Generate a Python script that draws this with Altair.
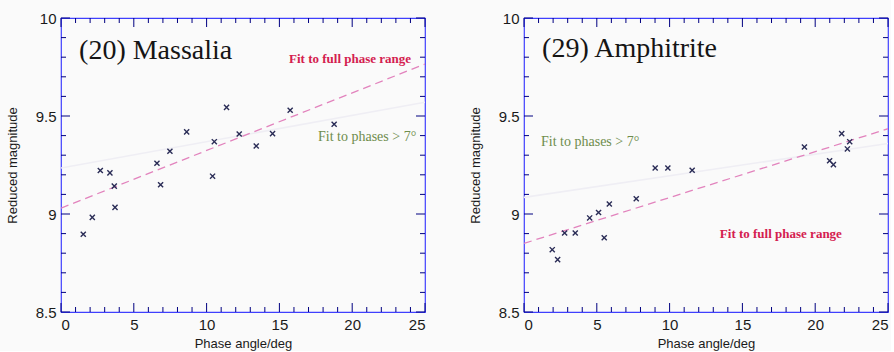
import altair as alt
import pandas as pd

# ---------------- data ----------------
# (20) Massalia
mas_phase = [1.53, 2.15, 2.70, 3.36, 3.66, 3.71, 6.59, 6.84, 7.48, 8.63,
             10.41, 10.53, 11.37, 12.24, 13.41, 14.53, 15.74, 18.76]
mas_mag = [8.897, 8.983, 9.222, 9.210, 9.142, 9.034, 9.259, 9.149, 9.320, 9.419,
           9.193, 9.369, 9.544, 9.408, 9.347, 9.410, 9.529, 9.458]
# (29) Amphitrite
amp_phase = [1.94, 2.31, 2.79, 3.52, 4.51, 5.12, 5.51, 5.86, 7.71, 9.01,
             9.88, 11.55, 19.26, 20.99, 21.25, 21.82, 22.21, 22.37]
amp_mag = [8.818, 8.767, 8.903, 8.903, 8.980, 9.008, 8.879, 9.051, 9.078, 9.235,
           9.235, 9.223, 9.342, 9.272, 9.252, 9.410, 9.332, 9.369]

# fit lines (end points)
fit_phase = [0, 25]
mas_fit_full = [9.03, 9.765]
mas_fit_gt7 = [9.235, 9.57]
amp_fit_full = [8.85, 9.435]
amp_fit_gt7 = [9.085, 9.36]

# annotation texts and anchor positions (data units)
mas_title = ["(20) Massalia", 1.24, 9.79]
amp_title = ["(29) Amphitrite", 1.24, 9.80]
mas_full_lbl = ["Fit to full phase range", 15.66, 9.77]
mas_gt7_lbl = ["Fit to phases > 7°", 17.65, 9.372]
amp_full_lbl = ["Fit to full phase range", 13.45, 8.878]
amp_gt7_lbl = ["Fit to phases > 7°", 1.17, 9.347]

# axis ranges and ticks
x_range = [0, 25]
y_range = [8.5, 10]
x_major = [0, 5, 10, 15, 20, 25]
x_minor = [1, 2, 3, 4, 6, 7, 8, 9, 11, 12, 13, 14, 16, 17, 18, 19, 21, 22, 23, 24]
y_major = [8.5, 9.0, 9.5, 10.0]
y_minor = [8.6, 8.7, 8.8, 8.9, 9.1, 9.2, 9.3, 9.4, 9.6, 9.7, 9.8, 9.9]

# ---------------- styling ----------------
W, H = 364, 294
FRAME = "blue"
TICK = "navy"
MARK = "#2a2c56"
PINK = "#e283bd"
FAINT = "#efeef4"
CRIMSON = "#d4204f"
GREEN = "#6e8c4c"
MAJ, MIN = 9, 5

xs = alt.Scale(domain=x_range, nice=False, zero=False)
ys = alt.Scale(domain=y_range, nice=False, zero=False)

xaxis = alt.Axis(values=x_major, format="d", ticks=False, domain=False, grid=False,
                 labelFont="Liberation Sans", labelFontSize=15, labelColor="#1a1a1a",
                 labelPadding=5, title="Phase angle/deg", titleFont="Liberation Sans",
                 titleFontSize=13, titleFontWeight="normal", titleColor="#1a1a1a",
                 titlePadding=5)
yaxis = alt.Axis(values=y_major, format="~g", ticks=False, domain=False, grid=False,
                 labelFont="Liberation Sans", labelFontSize=15, labelColor="#1a1a1a",
                 labelPadding=5, title="Reduced magnitude", titleFont="Liberation Sans",
                 titleFontSize=13, titleFontWeight="normal", titleColor="#1a1a1a",
                 titlePadding=16)

X = alt.X("x:Q", scale=xs, axis=xaxis)
Y = alt.Y("y:Q", scale=ys, axis=yaxis)


def tick_layers():
    layers = []
    # inward ticks on all four sides: short strokes anchored at the axis values
    for vals, L in ((x_major, MAJ), (x_minor, MIN)):
        for yv, off in ((y_range[0], -L / 2), (y_range[1], L / 2)):
            d = pd.DataFrame({"x": vals, "y": [yv] * len(vals)})
            layers.append(alt.Chart(d).mark_point(
                shape="M0,-1L0,1", filled=False, strokeWidth=1, size=L * L,
                color=TICK, opacity=1, yOffset=off).encode(x=X, y=Y))
    for vals, L in ((y_major, MAJ), (y_minor, MIN)):
        for xv, off in ((x_range[0], L / 2), (x_range[1], -L / 2)):
            d = pd.DataFrame({"y": vals, "x": [xv] * len(vals)})
            layers.append(alt.Chart(d).mark_point(
                shape="M-1,0L1,0", filled=False, strokeWidth=1, size=L * L,
                color=TICK, opacity=1, xOffset=off).encode(x=X, y=Y))
    return layers


def panel(phase, mag, fit_full, fit_gt7, title, full_lbl, gt7_lbl):
    pts = pd.DataFrame({"x": phase, "y": mag})
    ff = pd.DataFrame({"x": fit_phase, "y": fit_full})
    fg = pd.DataFrame({"x": fit_phase, "y": fit_gt7})

    faint = alt.Chart(fg).mark_line(color=FAINT, strokeWidth=1.6, clip=True).encode(x=X, y=Y)
    full = alt.Chart(ff).mark_line(color=PINK, strokeWidth=1.3, strokeDash=[8, 5],
                                   clip=True).encode(x=X, y=Y)
    points = alt.Chart(pts).mark_point(
        shape="M-1,-1L1,1M-1,1L1,-1", filled=False, strokeWidth=1.4, size=26,
        color=MARK, opacity=1).encode(x=X, y=Y)

    def txt(item, size, color, font, weight="normal"):
        d = pd.DataFrame({"t": [item[0]], "x": [item[1]], "y": [item[2]]})
        return alt.Chart(d).mark_text(align="left", baseline="alphabetic", font=font,
                                      fontSize=size, color=color, fontWeight=weight).encode(
            x=X, y=Y, text="t:N")

    t1 = txt(title, 28, "#151515", "Liberation Serif")
    t2 = txt(full_lbl, 13, CRIMSON, "Liberation Serif", "bold")
    t3 = txt(gt7_lbl, 14, GREEN, "Liberation Serif")

    return alt.layer(faint, full, *tick_layers(), points, t1, t2, t3).properties(
        width=W, height=H)


left = panel(mas_phase, mas_mag, mas_fit_full, mas_fit_gt7,
             mas_title, mas_full_lbl, mas_gt7_lbl)
right = panel(amp_phase, amp_mag, amp_fit_full, amp_fit_gt7,
              amp_title, amp_full_lbl, amp_gt7_lbl)

chart = alt.hconcat(left, right, spacing=40).properties(
    padding={"left": 5, "top": 10, "right": 0, "bottom": 0},
    background="#fafafa",
).configure_view(stroke=FRAME, strokeWidth=1.2, strokeOpacity=0.75)

chart.save("out.html", embed_options={"renderer": "svg", "actions": False})
